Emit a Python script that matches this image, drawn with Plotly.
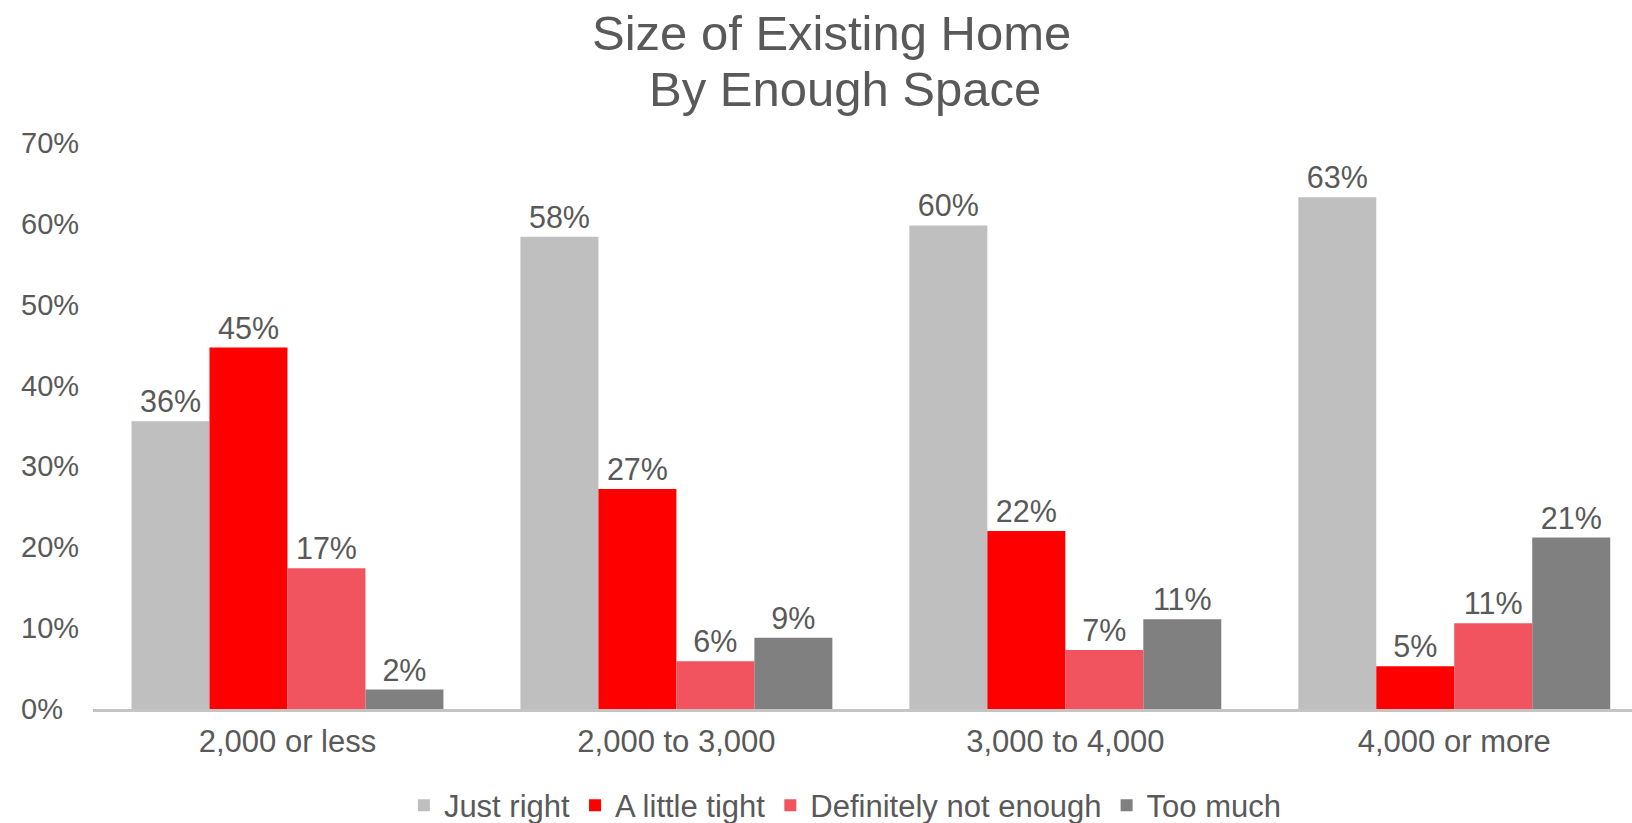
import plotly.graph_objects as go

# Home size buckets (sq ft) and share of respondents by how much space they feel they have
categories = ["2,000 or less", "2,000 to 3,000", "3,000 to 4,000", "4,000 or more"]
series_names = ["Just right", "A little tight", "Definitely not enough", "Too much"]
just_right = [0.356, 0.584, 0.598, 0.633]
a_little_tight = [0.447, 0.272, 0.220, 0.053]
definitely_not_enough = [0.174, 0.059, 0.073, 0.106]
too_much = [0.024, 0.088, 0.111, 0.212]
series_values = [just_right, a_little_tight, definitely_not_enough, too_much]
series_colors = ["#BFBFBF", "#FF0000", "#F2545F", "#808080"]

y_tick_vals = [0.0, 0.1, 0.2, 0.3, 0.4, 0.5, 0.6, 0.7]
y_tick_text = ["0%", "10%", "20%", "30%", "40%", "50%", "60%", "70%"]

title_lines = ["Size of Existing Home", "By Enough Space"]

FONT = "Liberation Sans, Arial, sans-serif"
TEXT_COLOR = "#595959"
W, H = 1632, 823
PLOT_L, PLOT_R = 92.5, W
PLOT_T, PLOT_B = 142.5, H - 113.5

fig = go.Figure()
for name, vals, color in zip(series_names, series_values, series_colors):
    fig.add_trace(go.Bar(
        name=name,
        x=categories,
        y=vals,
        marker=dict(color=color, line=dict(width=0)),
        texttemplate="%{y:.0%}",
        textposition="outside",
        constraintext="none",
        cliponaxis=False,
        textfont=dict(family=FONT, size=30.5, color=TEXT_COLOR),
    ))

# y tick labels, left aligned
for v, t in zip(y_tick_vals, y_tick_text):
    fig.add_annotation(
        x=-0.048, xref="paper", y=v, yref="y",
        text=t, showarrow=False, xanchor="left", yanchor="middle",
        font=dict(family=FONT, size=29, color=TEXT_COLOR),
    )

# two-line chart title, centres given in page pixels
for line, cx, cy in zip(title_lines, [831, 845], [32.5, 88.5]):
    fig.add_annotation(
        x=(cx - PLOT_L) / (PLOT_R - PLOT_L), xref="paper",
        y=(PLOT_B - cy) / (PLOT_B - PLOT_T), yref="paper",
        text=line, showarrow=False, xanchor="center", yanchor="middle",
        font=dict(family=FONT, size=49, color=TEXT_COLOR),
    )

fig.update_layout(
    width=W,
    height=H,
    paper_bgcolor="white",
    plot_bgcolor="white",
    margin=dict(l=PLOT_L, r=W - PLOT_R, t=PLOT_T, b=H - PLOT_B, pad=0),
    barmode="group",
    bargap=0.198,
    bargroupgap=0,
    font=dict(family=FONT, color=TEXT_COLOR),
    showlegend=True,
    legend=dict(
        orientation="h",
        x=0.518, xref="container", xanchor="center",
        y=1 - 805.6 / 823, yref="container", yanchor="middle",
        font=dict(family=FONT, size=31, color=TEXT_COLOR),
        itemwidth=30,
        traceorder="normal",
    ),
    xaxis=dict(
        range=[-0.5, 3.457],
        showline=True,
        linecolor="#C4C4C4",
        linewidth=3,
        ticks="",
        showgrid=False,
        zeroline=False,
        ticklabelstandoff=3,
        tickfont=dict(family=FONT, size=31, color=TEXT_COLOR),
    ),
    yaxis=dict(
        range=[0, 0.7],
        showticklabels=False,
        showgrid=False,
        zeroline=False,
        showline=False,
        ticks="",
    ),
)

fig.write_html("out.html")
